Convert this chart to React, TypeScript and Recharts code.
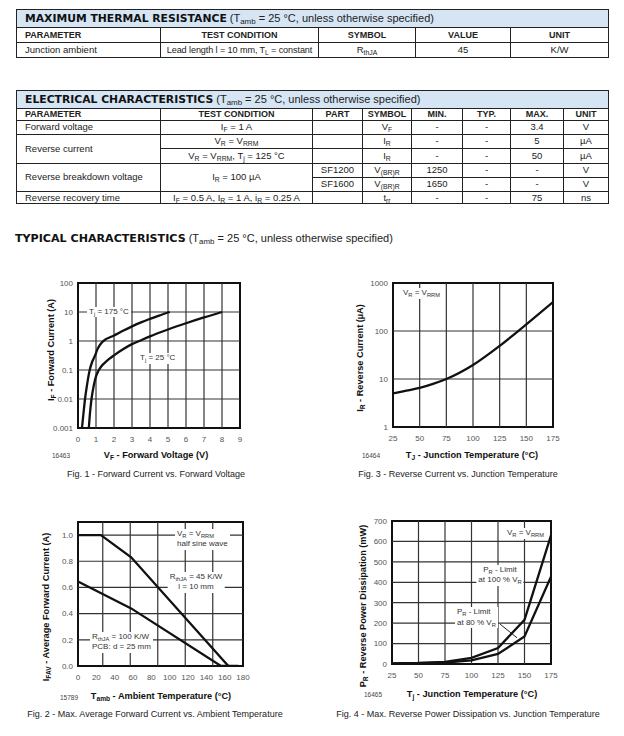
import React from 'react';
import { LineChart, Line, XAxis, YAxis, ReferenceLine, ReferenceArea } from 'recharts';

const FONT = '"Liberation Sans", Arial, Helvetica, sans-serif';
const HEAVY = '"DejaVu Sans", "Liberation Sans", sans-serif';

type Pair = [number, number];

// Fig. 1 - forward current vs forward voltage (V, A)
const fig1XTicks = [0, 1, 2, 3, 4, 5, 6, 7, 8, 9];
const fig1YTicks = [0.001, 0.01, 0.1, 1, 10, 100];
const fig1Tj175: Pair[] = [
  [0.22, 0.001], [0.3, 0.003], [0.39, 0.01], [0.5, 0.03], [0.65, 0.1], [0.8, 0.2], [0.93, 0.3],
  [1.1, 0.55], [1.3, 0.85], [1.5, 1.1], [1.75, 1.32], [2, 1.55], [2.5, 2.25], [3, 3.2], [3.5, 4.4],
  [4, 5.8], [4.5, 7.5], [5.1, 10],
];
const fig1Tj25: Pair[] = [
  [0.6, 0.001], [0.66, 0.003], [0.75, 0.01], [0.88, 0.03], [1.0, 0.06], [1.12, 0.09], [1.3, 0.135],
  [1.5, 0.18], [1.75, 0.245], [2, 0.32], [2.5, 0.52], [3, 0.78], [3.4, 1.0], [4, 1.45], [5, 2.5],
  [6, 4.1], [7, 6.5], [8, 10],
];

// Fig. 3 - reverse current vs junction temperature (°C, µA)
const fig3XTicks = [25, 50, 75, 100, 125, 150, 175];
const fig3YTicks = [1, 10, 100, 1000];
const fig3Ir: Pair[] = [
  [25, 5], [37.5, 5.7], [50, 6.5], [62.5, 7.9], [75, 10], [100, 19.6], [125, 49], [150, 138], [175, 400],
];

// Fig. 2 - max average forward current vs ambient temperature (°C, A)
const fig2XTicks = [0, 20, 40, 60, 80, 100, 120, 140, 160, 180];
const fig2YTicks = [0, 0.2, 0.4, 0.6, 0.8, 1.0];
const fig2Grid = [27, 57, 87, 117, 147];
const fig2Rth45: Pair[] = [[0, 1.0], [25, 1.0], [58, 0.83], [164, 0], [175, 0]];
const fig2Rth100: Pair[] = [[0, 0.645], [58, 0.44], [156, 0], [165, 0]];

// Fig. 4 - max reverse power dissipation vs junction temperature (°C, mW)
const fig4XTicks = [25, 50, 75, 100, 125, 150, 175];
const fig4YTicks = [0, 100, 200, 300, 400, 500, 600, 700];
const fig4At100: Pair[] = [[25, 3], [50, 5], [75, 10], [100, 30], [125, 78], [150, 216], [175, 630]];
const fig4At80: Pair[] = [[25, 2], [50, 4], [75, 7], [100, 18], [125, 49], [150, 135], [175, 427]];
const fig4Leader: Pair[] = [[127, 195], [143, 128]];

const toPts = (p: Pair[]) => p.map(([x, y]) => ({ x, y }));

function S({ children }: { children: React.ReactNode }) {
  return <span style={{ fontSize: '0.72em', verticalAlign: '-0.3em', lineHeight: 0 }}>{children}</span>;
}

interface PlotProps {
  box: [number, number, number, number];
  xDomain: [number, number];
  yDomain: [number, number];
  xTicks: number[];
  yTicks: number[];
  gridX: number[];
  gridY: number[];
  log?: boolean;
  series: Pair[][];
  curve: 'monotone' | 'linear';
  yFmt?: (v: number) => string;
  leader?: Pair[];
}

function Plot({ box, xDomain, yDomain, xTicks, yTicks, gridX, gridY, log, series, curve, yFmt, leader }: PlotProps) {
  const ML = 40, MT = 8, MR = 8, XH = 22;
  const tick = { fontSize: 8, fill: '#555', fontFamily: FONT };
  return (
    <div style={{ position: 'absolute', left: box[0] - ML, top: box[1] - MT }}>
      <LineChart width={box[2] + ML + MR} height={box[3] + MT + XH} margin={{ top: MT, right: MR, left: 0, bottom: 0 }}>
        <XAxis type="number" dataKey="x" domain={xDomain} ticks={xTicks} interval={0} allowDataOverflow
          height={XH} tickLine={false} axisLine={false} tick={tick} />
        <YAxis type="number" dataKey="y" domain={yDomain} scale={log ? 'log' : 'linear'} ticks={yTicks} interval={0}
          allowDataOverflow width={ML} tickLine={false} axisLine={false} tickSize={3} tickMargin={2}
          tickFormatter={yFmt} tick={tick} />
        {gridX.map((v) => <ReferenceLine key={'gx' + v} x={v} stroke="#333" strokeWidth={1.2} />)}
        {gridY.map((v) => <ReferenceLine key={'gy' + v} y={v} stroke="#333" strokeWidth={1.2} />)}
        {leader && (
          <ReferenceLine segment={toPts(leader)} stroke="#222" strokeWidth={1} />
        )}
        {series.map((d, i) => (
          <Line key={i} data={toPts(d)} dataKey="y" type={curve} stroke="#111" strokeWidth={2.3}
            dot={false} isAnimationActive={false} />
        ))}
        <ReferenceArea x1={xDomain[0]} x2={xDomain[1]} y1={yDomain[0]} y2={yDomain[1]}
          fill="none" fillOpacity={0} stroke="#111" strokeWidth={2} />
      </LineChart>
    </div>
  );
}

function Note({ x, cy, lines, align = 'left' }: { x: number; cy: number; lines: React.ReactNode[]; align?: 'left' | 'center' }) {
  const lh = 10.5;
  return (
    <div style={{
      position: 'absolute', left: x, top: cy - lh / 2, transform: align === 'center' ? 'translateX(-50%)' : undefined,
      background: '#fff', padding: '0 2px', fontSize: 8, lineHeight: lh + 'px', color: '#333', whiteSpace: 'nowrap',
      textAlign: align,
    }}>
      {lines.map((l, i) => <div key={i}>{l}</div>)}
    </div>
  );
}

function Centered({ cx, cy, children, style }: { cx: number; cy: number; children: React.ReactNode; style?: React.CSSProperties }) {
  return (
    <div style={{ position: 'absolute', left: cx, top: cy, transform: 'translate(-50%, -50%)', whiteSpace: 'nowrap', ...style }}>
      {children}
    </div>
  );
}

const axisTitle: React.CSSProperties = { fontWeight: 'bold', fontSize: 9.2, color: '#111' };
const caption: React.CSSProperties = { fontSize: 9, color: '#222' };
const figId: React.CSSProperties = { fontSize: 6.5, color: '#444' };

function YTitle({ cx, cy, children }: { cx: number; cy: number; children: React.ReactNode }) {
  return (
    <div style={{ position: 'absolute', left: cx, top: cy, transform: 'translate(-50%, -50%) rotate(-90deg)', whiteSpace: 'nowrap', ...axisTitle }}>
      {children}
    </div>
  );
}

const td: React.CSSProperties = {
  border: '1px solid #222', padding: '0 2px', textAlign: 'center', whiteSpace: 'nowrap', lineHeight: '10px',
  overflow: 'visible',
};
const tdl: React.CSSProperties = { ...td, textAlign: 'left', paddingLeft: 8 };
const th: React.CSSProperties = { ...td, fontWeight: 'bold', fontSize: 9 };
const thl: React.CSSProperties = { ...th, textAlign: 'left', paddingLeft: 8 };
const titleCell: React.CSSProperties = {
  ...td, textAlign: 'left', paddingLeft: 8, background: '#d5e5f4', fontSize: 11,
};
const tableStyle: React.CSSProperties = {
  position: 'absolute', left: 16, width: 592, borderCollapse: 'collapse', tableLayout: 'fixed',
  fontSize: 9.5, color: '#222', border: '1.5px solid #222',
};

function Title({ bold }: { bold: string }) {
  return (
    <>
      <span style={{ fontFamily: HEAVY, fontWeight: 'bold', fontSize: 10.8, color: '#111' }}>{bold}</span>
      <span> (T<S>amb</S> = 25 °C, unless otherwise specified)</span>
    </>
  );
}

export default function App() {
  return (
    <div style={{ position: 'absolute', left: 0, top: 0, width: 624, height: 736, background: '#fff', fontFamily: FONT, overflow: 'hidden' }}>
      <table style={{ ...tableStyle, top: 9 }}>
        <colgroup>
          <col style={{ width: 144 }} /><col style={{ width: 158 }} /><col style={{ width: 97 }} />
          <col style={{ width: 95 }} /><col style={{ width: 98 }} />
        </colgroup>
        <tbody>
          <tr style={{ height: 17.5 }}><td colSpan={5} style={titleCell}><Title bold="MAXIMUM THERMAL RESISTANCE" /></td></tr>
          <tr style={{ height: 15 }}>
            <td style={thl}>PARAMETER</td><td style={th}>TEST CONDITION</td><td style={th}>SYMBOL</td>
            <td style={th}>VALUE</td><td style={th}>UNIT</td>
          </tr>
          <tr style={{ height: 15 }}>
            <td style={tdl}>Junction ambient</td>
            <td style={{ ...td, fontSize: 9.1, letterSpacing: -0.1, padding: 0 }}>Lead length l = 10 mm, T<S>L</S> = constant</td>
            <td style={td}>R<S>thJA</S></td><td style={td}>45</td><td style={td}>K/W</td>
          </tr>
        </tbody>
      </table>

      <table style={{ ...tableStyle, top: 90 }}>
        <colgroup>
          <col style={{ width: 144 }} /><col style={{ width: 152 }} /><col style={{ width: 50 }} /><col style={{ width: 49 }} />
          <col style={{ width: 51 }} /><col style={{ width: 48 }} /><col style={{ width: 53 }} /><col style={{ width: 45 }} />
        </colgroup>
        <tbody>
          <tr style={{ height: 17.5 }}><td colSpan={8} style={titleCell}><Title bold="ELECTRICAL CHARACTERISTICS" /></td></tr>
          <tr style={{ height: 12 }}>
            <td style={thl}>PARAMETER</td><td style={th}>TEST CONDITION</td><td style={th}>PART</td><td style={th}>SYMBOL</td>
            <td style={th}>MIN.</td><td style={th}>TYP.</td><td style={th}>MAX.</td><td style={th}>UNIT</td>
          </tr>
          <tr style={{ height: 14 }}>
            <td style={tdl}>Forward voltage</td><td style={td}>I<S>F</S> = 1 A</td><td style={td}></td><td style={td}>V<S>F</S></td>
            <td style={td}>-</td><td style={td}>-</td><td style={td}>3.4</td><td style={td}>V</td>
          </tr>
          <tr style={{ height: 14.5 }}>
            <td style={tdl} rowSpan={2}>Reverse current</td><td style={td}>V<S>R</S> = V<S>RRM</S></td><td style={td}></td><td style={td}>I<S>R</S></td>
            <td style={td}>-</td><td style={td}>-</td><td style={td}>5</td><td style={td}>µA</td>
          </tr>
          <tr style={{ height: 14.5 }}>
            <td style={td}>V<S>R</S> = V<S>RRM</S>, T<S>j</S> = 125 °C</td><td style={td}></td><td style={td}>I<S>R</S></td>
            <td style={td}>-</td><td style={td}>-</td><td style={td}>50</td><td style={td}>µA</td>
          </tr>
          <tr style={{ height: 14.3 }}>
            <td style={tdl} rowSpan={2}>Reverse breakdown voltage</td><td style={td} rowSpan={2}>I<S>R</S> = 100 µA</td>
            <td style={td}>SF1200</td><td style={td}>V<S>(BR)R</S></td>
            <td style={td}>1250</td><td style={td}>-</td><td style={td}>-</td><td style={td}>V</td>
          </tr>
          <tr style={{ height: 14.3 }}>
            <td style={td}>SF1600</td><td style={td}>V<S>(BR)R</S></td>
            <td style={td}>1650</td><td style={td}>-</td><td style={td}>-</td><td style={td}>V</td>
          </tr>
          <tr style={{ height: 12.3 }}>
            <td style={tdl}>Reverse recovery time</td><td style={td}>I<S>F</S> = 0.5 A, I<S>R</S> = 1 A, i<S>R</S> = 0.25 A</td>
            <td style={td}></td><td style={td}>t<S>rr</S></td>
            <td style={td}>-</td><td style={td}>-</td><td style={td}>75</td><td style={td}>ns</td>
          </tr>
        </tbody>
      </table>

      <div style={{ position: 'absolute', left: 15, top: 237.5, transform: 'translateY(-50%)', whiteSpace: 'nowrap', fontSize: 11, color: '#222' }}>
        <span style={{ fontFamily: HEAVY, fontWeight: 'bold', fontSize: 11.1, color: '#111' }}>TYPICAL CHARACTERISTICS</span>
        <span> (T<S>amb</S> = 25 °C, unless otherwise specified)</span>
      </div>

      {/* Fig. 1 */}
      <Plot box={[78, 283, 162, 145]} xDomain={[0, 9]} yDomain={[0.001, 100]} xTicks={fig1XTicks} yTicks={fig1YTicks}
        gridX={[1, 2, 3, 4, 5, 6, 7, 8]} gridY={[0.01, 0.1, 1, 10]} log series={[fig1Tj175, fig1Tj25]} curve="monotone"
        yFmt={(v) => String(v)} />
      <Note x={87} cy={312} lines={[<>T<S>j</S> = 175 °C</>]} />
      <Note x={138} cy={358.5} lines={[<>T<S>j</S> = 25 °C</>]} />
      <YTitle cx={51} cy={350}>I<S>F</S> - Forward Current (A)</YTitle>
      <Centered cx={156} cy={455} style={axisTitle}>V<S>F</S> - Forward Voltage (V)</Centered>
      <Centered cx={61} cy={455} style={figId}>16463</Centered>
      <Centered cx={156} cy={474} style={caption}>Fig. 1 - Forward Current vs. Forward Voltage</Centered>

      {/* Fig. 3 */}
      <Plot box={[393, 283, 160, 144]} xDomain={[25, 175]} yDomain={[1, 1000]} xTicks={fig3XTicks} yTicks={fig3YTicks}
        gridX={[50, 75, 100, 125, 150]} gridY={[10, 100]} log series={[fig3Ir]} curve="monotone" yFmt={(v) => String(v)} />
      <Note x={401} cy={293.5} lines={[<>V<S>R</S> = V<S>RRM</S></>]} />
      <YTitle cx={360} cy={358}>I<S>R</S> - Reverse Current (µA)</YTitle>
      <Centered cx={472} cy={454.5} style={axisTitle}>T<S>J</S> - Junction Temperature (°C)</Centered>
      <Centered cx={371} cy={454.5} style={figId}>16464</Centered>
      <Centered cx={458} cy={474} style={caption}>Fig. 3 - Reverse Current vs. Junction Temperature</Centered>

      {/* Fig. 2 */}
      <Plot box={[78, 522, 165, 144]} xDomain={[0, 180]} yDomain={[0, 1.1]} xTicks={fig2XTicks} yTicks={fig2YTicks}
        gridX={fig2Grid} gridY={[0.2, 0.4, 0.6, 0.8, 1.0]} series={[fig2Rth45, fig2Rth100]} curve="linear"
        yFmt={(v) => v.toFixed(1)} />
      <Note x={175} cy={534} lines={[<>V<S>R</S> = V<S>RRM</S></>, 'half sine wave']} />
      <Note x={196} cy={577} align="center" lines={[<>R<S>thJA</S> = 45 K/W</>, 'l = 10 mm']} />
      <Note x={90} cy={637} lines={[<>R<S>thJA</S> = 100 K/W</>, 'PCB: d = 25 mm']} />
      <YTitle cx={46} cy={607}>I<S>FAV</S> - Average Forward Current (A)</YTitle>
      <Centered cx={161} cy={696} style={axisTitle}>T<S>amb</S> - Ambient Temperature (°C)</Centered>
      <Centered cx={69} cy={696.5} style={figId}>15789</Centered>
      <Centered cx={155} cy={714} style={caption}>Fig. 2 - Max. Average Forward Current vs. Ambient Temperature</Centered>

      {/* Fig. 4 */}
      <Plot box={[392, 521, 159, 143]} xDomain={[25, 175]} yDomain={[0, 700]} xTicks={fig4XTicks} yTicks={fig4YTicks}
        gridX={[50, 75, 100, 125, 150]} gridY={[100, 200, 300, 400, 500, 600]} series={[fig4At100, fig4At80]}
        curve="linear" leader={fig4Leader} />
      <Note x={505} cy={533.5} lines={[<>V<S>R</S> = V<S>RRM</S></>]} />
      <Note x={500} cy={570} align="center" lines={[<>P<S>R</S> - Limit</>, <>at 100 % V<S>R</S></>]} />
      <Note x={455} cy={612.5} lines={[<>P<S>R</S> - Limit</>, <>at 80 % V<S>R</S></>]} />
      <YTitle cx={363} cy={606}>P<S>R</S> - Reverse Power Dissipation (mW)</YTitle>
      <Centered cx={472} cy={693.5} style={axisTitle}>T<S>j</S> - Junction Temperature (°C)</Centered>
      <Centered cx={373} cy={693.5} style={figId}>16465</Centered>
      <Centered cx={468} cy={714} style={caption}>Fig. 4 - Max. Reverse Power Dissipation vs. Junction Temperature</Centered>
    </div>
  );
}
